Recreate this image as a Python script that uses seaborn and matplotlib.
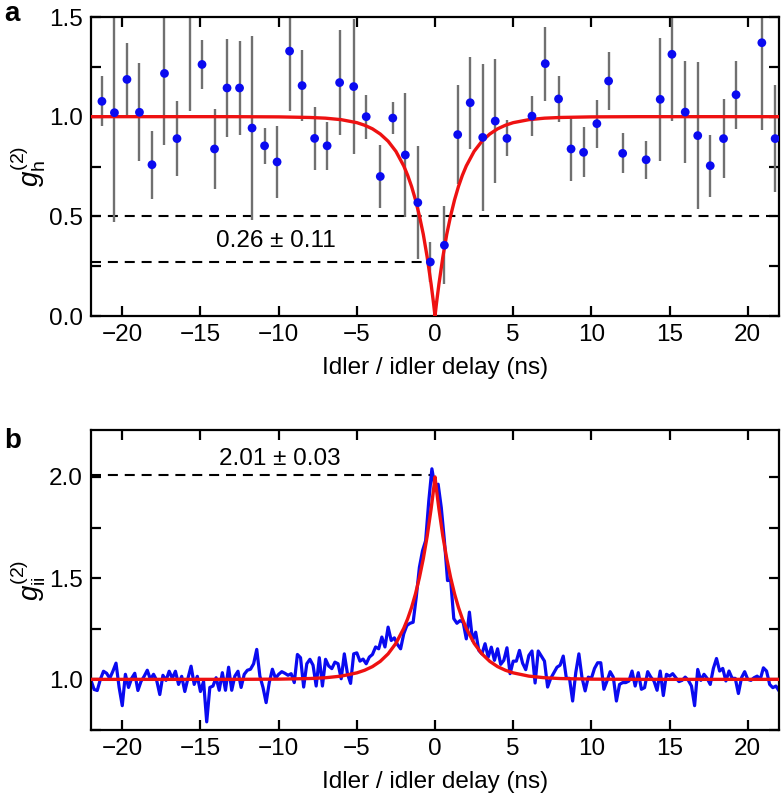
import numpy as np
import pandas as pd
import matplotlib
matplotlib.use("Agg")
import matplotlib.pyplot as plt
import seaborn as sns
from matplotlib.ticker import MultipleLocator

# ---------------- data: panel a (heralded g2) ----------------
delay_a = [-21.3, -20.5, -19.7, -18.9, -18.1, -17.3, -16.5, -15.7, -14.9, -14.1,
           -13.3, -12.5, -11.7, -10.9, -10.1, -9.3, -8.5, -7.7, -6.9, -6.1,
           -5.2, -4.4, -3.5, -2.7, -1.9, -1.1, -0.3, 0.6, 1.45, 2.25,
           3.05, 3.85, 4.6, 6.2, 7.05, 7.9, 8.7, 9.5, 10.35, 11.1,
           12.0, 13.5, 14.4, 15.15, 16.0, 16.8, 17.6, 18.45, 19.25, 20.9, 21.75]
g2_h = [1.077, 1.02, 1.187, 1.022, 0.759, 1.217, 0.89, 1.55, 1.262, 0.838,
        1.144, 1.144, 0.943, 0.854, 0.773, 1.329, 1.156, 0.891, 0.854, 1.171,
        1.151, 1.0, 0.70, 0.993, 0.808, 0.569, 0.271, 0.355, 0.91, 1.07,
        0.896, 0.978, 0.891, 1.003, 1.266, 1.089, 0.838, 0.821, 0.965, 1.179,
        0.816, 0.784, 1.087, 1.313, 1.023, 0.905, 0.754, 0.89, 1.11, 1.371, 0.89]
g2_h_err = [0.125, 0.55, 0.185, 0.245, 0.17, 0.36, 0.19, 0.52, 0.125, 0.20,
            0.245, 0.235, 0.46, 0.09, 0.18, 0.30, 0.18, 0.16, 0.12, 0.265,
            0.34, 0.11, 0.16, 0.08, 0.31, 0.285, 0.10, 0.195, 0.25, 0.23,
            0.37, 0.31, 0.09, 0.10, 0.185, 0.115, 0.16, 0.125, 0.12, 0.145,
            0.10, 0.095, 0.31, 0.335, 0.255, 0.37, 0.155, 0.20, 0.17, 0.44, 0.27]

# fit curve panel a (one side, mirrored)
fit_a_t = [0.0, 0.1, 0.25, 0.5, 0.75, 1.0, 1.25, 1.5, 1.75, 2.0, 2.5, 3.0, 3.5,
           4.0, 4.5, 5.0, 6.0, 7.0, 8.0, 10.0, 13.0, 22.0]
fit_a_v = [0.0, 0.068, 0.16, 0.295, 0.41, 0.503, 0.583, 0.65, 0.706, 0.753, 0.826,
           0.877, 0.913, 0.939, 0.957, 0.97, 0.985, 0.9925, 0.996, 0.999, 1.0, 1.0]

# ---------------- data: panel b (idler/idler g2) ----------------
g2_ii = [
    # -22.0 .. -14.4
    0.995, 0.95, 0.945, 1.0, 1.04, 1.03, 1.005, 1.04, 1.08, 0.96,
    0.87, 1.025, 0.96, 1.005, 1.03, 0.945, 0.99, 1.015, 1.045, 1.0,
    1.025, 0.995, 0.925, 1.02, 0.995, 1.04, 1.005, 1.04, 0.975, 1.015,
    0.94, 1.005, 1.065, 0.975, 1.015, 0.94, 0.99, 0.79, 0.96,
    # -14.2 .. -6.8
    0.967, 1.008, 0.946, 1.033, 0.946, 1.06, 0.946, 1.016, 1.04, 0.96,
    1.025, 1.045, 1.05, 1.077, 1.148, 1.016, 0.96, 0.885, 0.984, 1.05,
    1.005, 1.025, 1.038, 1.03, 1.02, 1.028, 0.984, 1.123, 1.107, 0.962,
    1.077, 1.099, 1.07, 0.967, 1.107, 0.967, 1.099, 1.066,
    # -6.6 .. 0.0
    1.053, 1.085, 1.077, 1.003, 1.126, 1.028, 0.98, 1.126, 1.131, 1.09,
    1.10, 1.077, 1.11, 1.123, 1.16, 1.151, 1.209, 1.16, 1.258, 1.192,
    1.205, 1.172, 1.151, 1.225, 1.266, 1.277, 1.282, 1.406, 1.553, 1.635,
    1.685, 1.88, 2.04, 1.95,
    # 0.2 .. 6.6
    1.964, 1.849, 1.685, 1.488, 1.49, 1.30, 1.277, 1.29, 1.282, 1.20,
    1.332, 1.192, 1.233, 1.143, 1.126, 1.176, 1.11, 1.159, 1.094, 1.151,
    1.074, 1.094, 1.156, 1.028, 1.09, 1.09, 1.143, 1.08, 1.048, 1.118,
    1.14, 0.982, 1.14,
    # 6.8 .. 14.2
    1.115, 1.09, 0.962, 1.005, 1.033, 1.06, 1.07, 1.115, 1.005, 1.005,
    0.893, 1.033, 1.126, 1.008, 0.943, 1.011, 1.005, 1.054, 1.082, 1.082,
    0.951, 0.992, 1.038, 1.011, 0.893, 0.975, 0.984, 0.984, 0.992, 1.041,
    0.967, 1.033, 0.951, 0.959, 1.038, 1.011, 0.992, 0.946,
    # 14.4 .. 22.0
    1.041, 0.92, 1.025, 1.016, 1.028, 1.008, 0.989, 0.995, 1.011, 0.995,
    0.967, 0.87, 1.049, 0.995, 1.025, 1.005, 0.975, 1.054, 1.103, 1.041,
    1.054, 0.992, 1.041, 1.005, 1.005, 0.93, 1.008, 1.038, 1.0, 0.995,
    1.008, 1.016, 1.0, 1.057, 1.041, 0.975, 0.959, 0.967, 0.943,
]
delay_b = np.round(np.linspace(-22.0, 22.0, len(g2_ii)), 2)

fit_b_t = [0.0, 0.1, 0.25, 0.5, 0.75, 1.0, 1.25, 1.5, 1.75, 2.0, 2.5, 3.0, 3.5,
           4.0, 4.5, 5.0, 6.0, 7.0, 8.0, 10.0, 13.0, 22.0]
fit_b_v = [2.0, 1.933, 1.842, 1.708, 1.596, 1.502, 1.422, 1.355, 1.299, 1.252, 1.178,
           1.126, 1.089, 1.063, 1.045, 1.032, 1.016, 1.008, 1.004, 1.001, 1.0, 1.0]

xticks = [-20, -15, -10, -5, 0, 5, 10, 15, 20]
xlabel = "Idler / idler delay (ns)"

# ---------------- style ----------------
sns.set_style("ticks")
plt.rcParams["font.family"] = ["Liberation Sans", "DejaVu Sans"]
plt.rcParams["mathtext.fontset"] = "custom"
plt.rcParams["mathtext.rm"] = "Liberation Sans"
plt.rcParams["mathtext.it"] = "Liberation Sans:italic"
plt.rcParams["axes.linewidth"] = 1.6
for k in ["text.color", "axes.labelcolor", "xtick.color", "ytick.color",
          "axes.edgecolor"]:
    plt.rcParams[k] = "black"

FS = 17.5
BLUE = "#0a0af0"
RED = "#ee1111"


def mirror(t, v):
    t = np.asarray(t)
    v = np.asarray(v)
    return np.concatenate([-t[::-1], t[1:]]), np.concatenate([v[::-1], v[1:]])


def style_axis(ax, ymaj, ymin):
    ax.set_xlim(-22, 22)
    ax.set_xticks(xticks)
    ax.xaxis.set_minor_locator(plt.NullLocator())
    ax.yaxis.set_major_locator(MultipleLocator(ymaj))
    ax.yaxis.set_minor_locator(MultipleLocator(ymin))
    ax.tick_params(which="both", direction="in", top=True, right=True,
                   width=1.6, labelsize=FS, pad=6, color="black",
                   labelcolor="black")
    ax.tick_params(which="major", length=7)
    ax.tick_params(which="minor", length=7)
    for s in ax.spines.values():
        s.set_visible(True)
        s.set_linewidth(1.6)
        s.set_color("black")
    ax.set_xlabel(xlabel, fontsize=FS, labelpad=8, color="black")


def set_ylab(ax, txt):
    ax.set_ylabel(txt, fontsize=20, color="black")
    ax.yaxis.label.set_verticalalignment("center")
    ax.yaxis.label.set_horizontalalignment("center")
    ax.yaxis.set_label_coords(-0.092, 0.5)


fig = plt.figure(figsize=(7.81, 7.95), dpi=100)
ax1 = fig.add_axes([0.1165, 0.6025, 0.881, 0.3761])
ax2 = fig.add_axes([0.1165, 0.0818, 0.881, 0.3774])

# ---- panel a ----
fx, fy = mirror(fit_a_t, fit_a_v)
ax1.axhline(0.5, color="black", lw=1.5, dashes=(4.8, 3.3), zorder=1)
ln = ax1.plot([-22, -0.5], [0.27, 0.27], color="black", lw=1.5, zorder=1)[0]
ln.set_dashes((4.8, 3.3))
ax1.errorbar(delay_a, g2_h, yerr=g2_h_err, fmt="none", ecolor="#707070",
             elinewidth=1.7, capsize=0, zorder=2)
sns.lineplot(x=fx, y=fy, ax=ax1, color=RED, lw=2.4, zorder=3, sort=False)
sns.scatterplot(x=delay_a, y=g2_h, ax=ax1, color=BLUE, s=40, edgecolor="none",
                zorder=4)
ax1.set_ylim(0, 1.5)
style_axis(ax1, 0.5, 0.25)
set_ylab(ax1, r"$g_{\mathrm{h}}^{(2)}$")
ax1.text(-10.2, 0.375, "0.26 ± 0.11", fontsize=FS, ha="center", va="center")

# ---- panel b ----
gx, gy = mirror(fit_b_t, fit_b_v)
ln = ax2.plot([-22, -0.3], [2.01, 2.01], color="black", lw=1.5, zorder=1)[0]
ln.set_dashes((4.8, 3.3))
sns.lineplot(x=delay_b, y=g2_ii, ax=ax2, color=BLUE, lw=2.3, zorder=2)
sns.lineplot(x=gx, y=gy, ax=ax2, color=RED, lw=2.4, zorder=3, sort=False)
ax2.set_ylim(0.75, 2.232)
style_axis(ax2, 0.5, 0.25)
set_ylab(ax2, r"$g_{\mathrm{ii}}^{(2)}$")
ax2.text(-9.9, 2.09, "2.01 ± 0.03", fontsize=FS, ha="center", va="center")

fig.text(0.006, 0.982, "a", fontsize=20, fontweight="bold", va="center", ha="left")
fig.text(0.006, 0.445, "b", fontsize=20, fontweight="bold", va="center", ha="left")

fig.savefig("out.png", dpi=100)
